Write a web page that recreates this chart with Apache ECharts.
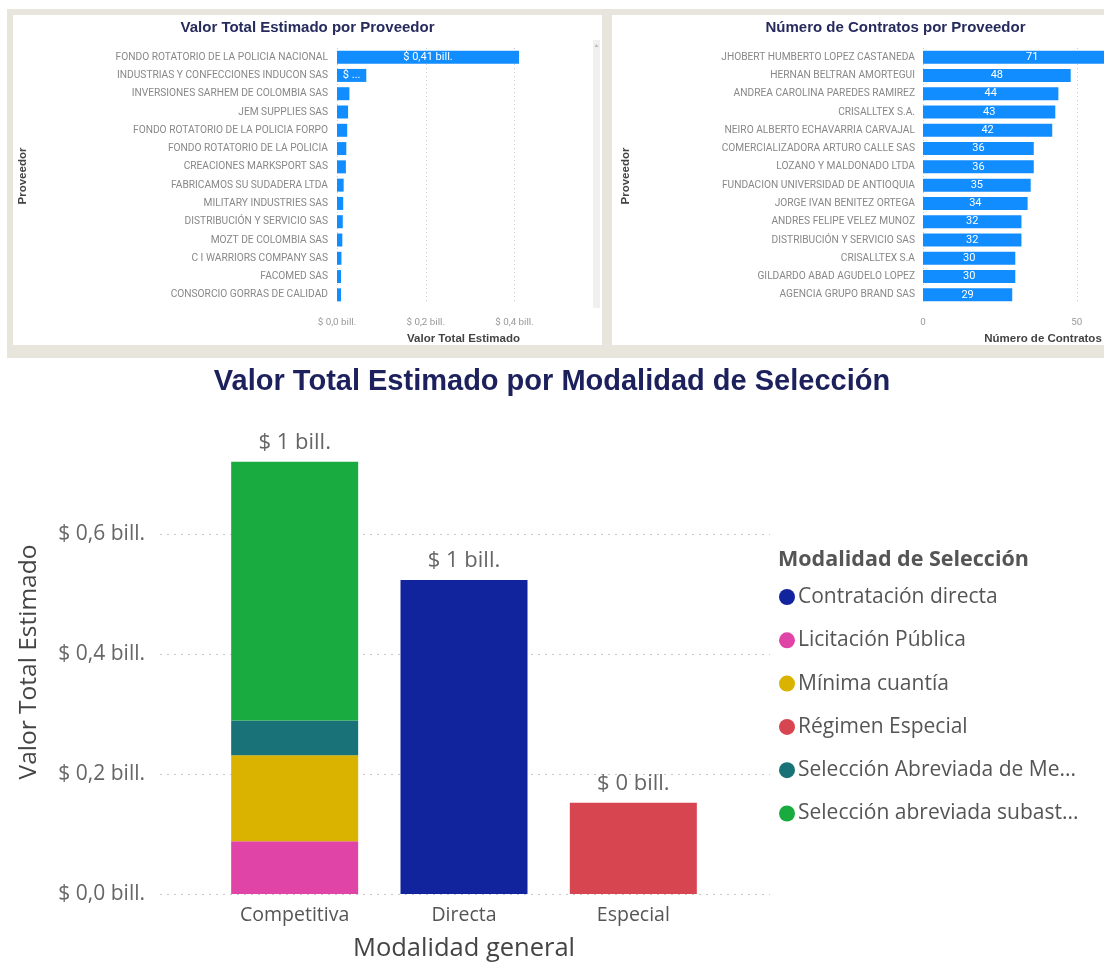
<!DOCTYPE html>
<html>
<head>
<meta charset="utf-8">
<title>Contratos</title>
<script src="https://cdn.jsdelivr.net/npm/echarts@6/dist/echarts.min.js"></script>
<style>
html, body { margin: 0; padding: 0; background: #fff; width: 1104px; height: 970px; overflow: hidden; }
#frame { position: absolute; left: 7px; top: 9px; width: 1110px; height: 349px; background: #e8e6dc; }
#valorChart { position: absolute; left: 13px; top: 15px; width: 589px; height: 330px; background: #fff; }
#contratosChart { position: absolute; left: 612px; top: 15px; width: 567px; height: 330px; background: #fff; }
#modalidadChart { position: absolute; left: 0; top: 358px; width: 1104px; height: 612px; }
</style>
</head>
<body>
<div id="frame"></div>
<div id="valorChart"></div>
<div id="contratosChart"></div>
<div id="modalidadChart"></div>
<script>
// valor total estimado por proveedor (billones)
var proveedoresValor = ['FONDO ROTATORIO DE LA POLICIA NACIONAL', 'INDUSTRIAS Y CONFECCIONES INDUCON SAS',
    'INVERSIONES SARHEM DE COLOMBIA SAS', 'JEM SUPPLIES SAS', 'FONDO ROTATORIO DE LA POLICIA FORPO',
    'FONDO ROTATORIO DE LA POLICIA', 'CREACIONES MARKSPORT SAS', 'FABRICAMOS SU SUDADERA LTDA',
    'MILITARY INDUSTRIES SAS', 'DISTRIBUCIÓN Y SERVICIO SAS', 'MOZT DE COLOMBIA SAS',
    'C I WARRIORS COMPANY SAS', 'FACOMED SAS', 'CONSORCIO GORRAS DE CALIDAD'];
var valorEstimado = [0.41, 0.066, 0.028, 0.025, 0.023, 0.021, 0.02, 0.015, 0.014, 0.013, 0.012, 0.01, 0.009, 0.009];

// numero de contratos por proveedor
var proveedoresContratos = ['JHOBERT HUMBERTO LOPEZ CASTANEDA', 'HERNAN BELTRAN AMORTEGUI',
    'ANDREA CAROLINA PAREDES RAMIREZ', 'CRISALLTEX S.A.', 'NEIRO ALBERTO ECHAVARRIA CARVAJAL',
    'COMERCIALIZADORA ARTURO CALLE SAS', 'LOZANO Y MALDONADO LTDA', 'FUNDACION UNIVERSIDAD DE ANTIOQUIA',
    'JORGE IVAN BENITEZ ORTEGA', 'ANDRES FELIPE VELEZ MUNOZ', 'DISTRIBUCIÓN Y SERVICIO SAS',
    'CRISALLTEX S.A', 'GILDARDO ABAD AGUDELO LOPEZ', 'AGENCIA GRUPO BRAND SAS'];
var numeroContratos = [71, 48, 44, 43, 42, 36, 36, 35, 34, 32, 32, 30, 30, 29];

// valor por modalidad (billones)
var modalidades = ['Competitiva', 'Directa', 'Especial'];
var contratacionDirecta = [0, 0.523, 0];
var licitacionPublica = [0.088, 0, 0];
var minimaCuantia = [0.143, 0, 0];
var regimenEspecial = [0, 0, 0.152];
var seleccionMenorCuantia = [0.058, 0, 0];
var seleccionSubasta = [0.431, 0, 0];

var smallFont = 'Roboto';
var uiFont = "'Segoe UI', 'Open Sans', sans-serif";

var billComa = function (v, dec) {
    return '$ ' + v.toFixed(dec).replace('.', ',') + ' bill.';
};

var topTitle = function (text) {
    return {
        text: text, left: 'center', top: 0,
        textStyle: { fontFamily: 'Liberation Sans', fontSize: 15, fontWeight: 'bold', color: '#262a5c' }
    };
};
var topName = { fontFamily: 'Liberation Sans', fontSize: 11.5, fontWeight: 'bold', color: '#444' };

var valorChart = echarts.init(document.getElementById('valorChart'));
valorChart.setOption({
    animation: false,
    title: topTitle('Valor Total Estimado por Proveedor'),
    grid: { left: 324, right: 12, top: 33, bottom: 41, outerBoundsMode: 'none' },
    xAxis: {
        type: 'value', min: 0, max: 0.57, interval: 0.2,
        name: 'Valor Total Estimado', nameLocation: 'middle', nameGap: 29, nameTextStyle: topName,
        axisLine: { show: false }, axisTick: { show: false },
        axisLabel: { margin: 14, fontFamily: smallFont, fontSize: 9.8, color: '#999', showMaxLabel: false,
            formatter: function (v) { return billComa(v, 1); } },
        splitLine: { showMaxLine: false, lineStyle: { type: [1, 3], color: '#ccc' } }
    },
    yAxis: {
        type: 'category', inverse: true, data: proveedoresValor,
        name: 'Proveedor', nameLocation: 'middle', nameGap: 308, nameTextStyle: topName,
        axisLine: { show: false }, axisTick: { show: false },
        axisLabel: { margin: 9, fontFamily: smallFont, fontSize: 10.2, color: '#888' }
    },
    series: [{
        type: 'bar', data: valorEstimado, barWidth: 13,
        itemStyle: { color: '#118DFF' },
        label: {
            show: true, position: 'inside', color: '#fff', fontFamily: smallFont, fontSize: 11,
            formatter: function (p) {
                if (p.value >= 0.2) return billComa(p.value, 2);
                if (p.value >= 0.05) return '$ ...';
                return '';
            }
        }
    }],
    graphic: [
        { type: 'rect', shape: { x: 580, y: 25, width: 7, height: 268 }, style: { fill: '#f0f0f0' } },
        { type: 'polygon', shape: { points: [[581.5, 32], [585.5, 32], [583.5, 29]] }, style: { fill: '#bbb' } }
    ]
});

var contratosChart = echarts.init(document.getElementById('contratosChart'));
contratosChart.setOption({
    animation: false,
    title: topTitle('Número de Contratos por Proveedor'),
    grid: { left: 311, right: 16, top: 33, bottom: 41, outerBoundsMode: 'none' },
    xAxis: {
        type: 'value', min: 0, max: 78, interval: 50,
        name: 'Número de Contratos', nameLocation: 'middle', nameGap: 29, nameTextStyle: topName,
        axisLine: { show: false }, axisTick: { show: false },
        axisLabel: { margin: 14, fontFamily: smallFont, fontSize: 9.8, color: '#999', showMaxLabel: false },
        splitLine: { showMaxLine: false, lineStyle: { type: [1, 3], color: '#ccc' } }
    },
    yAxis: {
        type: 'category', inverse: true, data: proveedoresContratos,
        name: 'Proveedor', nameLocation: 'middle', nameGap: 291, nameTextStyle: topName,
        axisLine: { show: false }, axisTick: { show: false },
        axisLabel: { margin: 8, fontFamily: smallFont, fontSize: 10.2, color: '#888' }
    },
    series: [{
        type: 'bar', data: numeroContratos, barWidth: 13,
        itemStyle: { color: '#118DFF' },
        label: { show: true, position: 'inside', color: '#fff', fontFamily: smallFont, fontSize: 11 }
    }]
});

// totals on top of each stacked column
var totales = modalidades.map(function (m, i) {
    return contratacionDirecta[i] + licitacionPublica[i] + minimaCuantia[i] +
        regimenEspecial[i] + seleccionMenorCuantia[i] + seleccionSubasta[i];
});

var stackSerie = function (name, data, color) {
    return {
        name: name, type: 'bar', stack: 'total', xAxisIndex: 1, yAxisIndex: 1,
        data: data, barWidth: 127, itemStyle: { color: color }
    };
};

var modalidadChart = echarts.init(document.getElementById('modalidadChart'));
modalidadChart.setOption({
    animation: false,
    title: [{
        text: 'Valor Total Estimado por Modalidad de Selección', left: 'center', top: 4,
        textStyle: { fontFamily: 'Liberation Sans', fontSize: 29, fontWeight: 'bold', color: '#1c205c' }
    }, {
        text: 'Modalidad de Selección', left: 773, top: 186,
        textStyle: { fontFamily: uiFont, fontSize: 21.5, fontWeight: 'bold', color: '#555' }
    }],
    legend: {
        orient: 'vertical', left: 774, top: 223, itemGap: 21.3, itemWidth: 16, itemHeight: 16, icon: 'circle',
        itemStyle: { borderWidth: 0 },
        data: ['Contratación directa', 'Licitación Pública', 'Mínima cuantía', 'Régimen Especial',
            'Selección Abreviada de Menor Cuantía', 'Selección abreviada subasta inversa'],
        textStyle: { fontFamily: uiFont, fontSize: 21, lineHeight: 22, color: '#555', padding: [0, 0, 0, -2],
            width: 290, overflow: 'truncate', ellipsis: '...' }
    },
    grid: [
        { left: 160, right: 334, top: 72, bottom: 76, outerBoundsMode: 'none' },
        { left: 210, right: 386, top: 72, bottom: 76, outerBoundsMode: 'none' }
    ],
    xAxis: [
        { type: 'value', gridIndex: 0, show: false },
        {
            type: 'category', gridIndex: 1, data: modalidades,
            name: 'Modalidad general', nameLocation: 'middle', nameGap: 42,
            nameTextStyle: { fontFamily: uiFont, fontSize: 25.5, color: '#444' },
            axisLine: { show: false }, axisTick: { show: false },
            axisLabel: { margin: 11, fontFamily: uiFont, fontSize: 19.5, color: '#555' }
        }
    ],
    yAxis: [
        {
            type: 'value', gridIndex: 0, min: 0, max: 0.773, interval: 0.2,
            name: 'Valor Total Estimado', nameLocation: 'middle', nameGap: 118,
            nameTextStyle: { fontFamily: uiFont, fontSize: 24.5, color: '#444' },
            axisLine: { show: false }, axisTick: { show: false },
            axisLabel: { margin: 15, fontFamily: uiFont, fontSize: 21, color: '#666', showMaxLabel: false,
                formatter: function (v) { return billComa(v, 1); } },
            splitLine: { showMaxLine: false, lineStyle: { type: [2, 5], color: '#c8c8c8' } }
        },
        { type: 'value', gridIndex: 1, min: 0, max: 0.773, show: false, splitLine: { show: false } }
    ],
    series: [
        stackSerie('Contratación directa', contratacionDirecta, '#12239E'),
        stackSerie('Licitación Pública', licitacionPublica, '#E044A7'),
        stackSerie('Mínima cuantía', minimaCuantia, '#D9B300'),
        stackSerie('Régimen Especial', regimenEspecial, '#D64550'),
        stackSerie('Selección Abreviada de Menor Cuantía', seleccionMenorCuantia, '#197278'),
        stackSerie('Selección abreviada subasta inversa', seleccionSubasta, '#1AAB40'),
        {
            name: 'Total', type: 'bar', stack: 'total', xAxisIndex: 1, yAxisIndex: 1,
            data: modalidades.map(function () { return 0; }), barWidth: 127,
            itemStyle: { color: 'transparent' },
            label: {
                show: true, position: 'top', distance: 8, fontFamily: uiFont, fontSize: 22, color: '#666',
                formatter: function (p) { return '$ ' + Math.round(totales[p.dataIndex]) + ' bill.'; }
            }
        }
    ]
});
</script>
</body>
</html>
